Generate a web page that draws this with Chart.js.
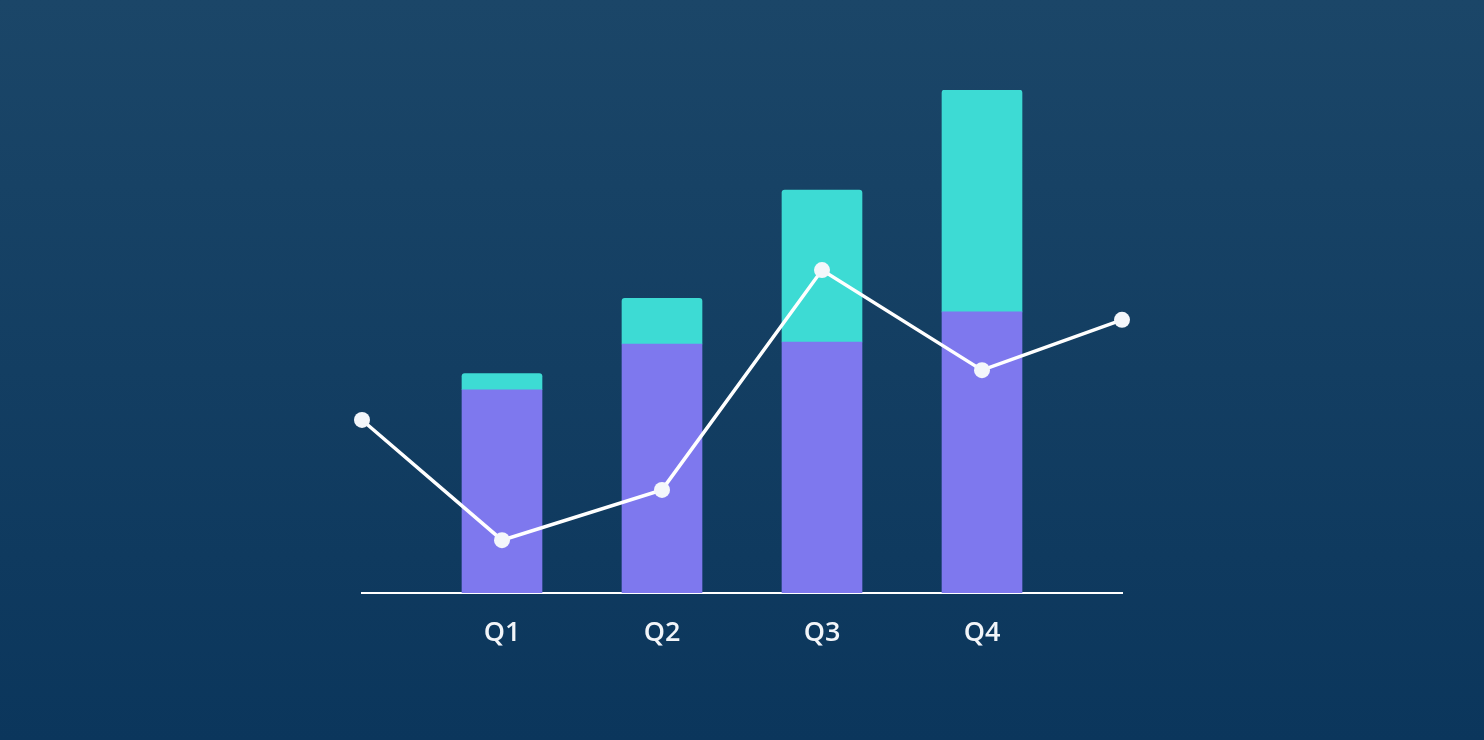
<!DOCTYPE html>
<html>
<head>
<meta charset="utf-8">
<script src="https://cdn.jsdelivr.net/npm/chart.js@4/dist/chart.umd.min.js"></script>
<style>
  html, body { margin: 0; padding: 0; }
  body {
    width: 1484px;
    height: 740px;
    background: linear-gradient(to bottom, #1b4668 0%, #0b365c 100%);
    overflow: hidden;
  }
  #wrap { width: 1484px; height: 740px; position: relative; }
</style>
</head>
<body>
<div id="wrap"><canvas id="chart"></canvas></div>
<script>
// quarters shown under the bars
const quarters = ['Q1', 'Q2', 'Q3', 'Q4'];
const barX = [0, 1, 2, 3];

// stacked bar values (lower purple part, upper teal part)
const baseValues = [40.4, 49.5, 49.9, 55.9];
const topValues = [3.2, 9.1, 30.2, 44.1];

// line runs a bit past the first and last quarter
const lineX = [-0.875, 0, 1, 2, 3, 3.875];
const lineValues = [34.4, 10.5, 20.5, 64.2, 44.3, 54.3];

const toPoints = (xs, ys) => xs.map((x, i) => ({ x: x, y: ys[i] }));

const ctx = document.getElementById('chart').getContext('2d');

new Chart(ctx, {
    type: 'bar',
    data: {
        datasets: [
            {
                type: 'line',
                data: toPoints(lineX, lineValues),
                borderColor: '#ffffff',
                borderWidth: 3.5,
                pointRadius: 8,
                pointBackgroundColor: '#f4f7fb',
                pointBorderWidth: 0,
                tension: 0,
                clip: false,
                order: 0
            },
            {
                data: toPoints(barX, baseValues),
                backgroundColor: '#7e78ee',
                barThickness: 80,
                borderRadius: 0,
                order: 1
            },
            {
                data: toPoints(barX, topValues),
                backgroundColor: '#3ddbd4',
                barThickness: 80,
                borderRadius: { topLeft: 3, topRight: 3 },
                borderSkipped: 'bottom',
                order: 1
            }
        ]
    },
    options: {
        responsive: true,
        maintainAspectRatio: false,
        animation: false,
        layout: {
            padding: { left: 362, right: 362, top: 90, bottom: 87 }
        },
        plugins: {
            legend: { display: false },
            tooltip: { enabled: false }
        },
        scales: {
            x: {
                type: 'linear',
                stacked: true,
                offset: false,
                min: -0.875,
                max: 3.875,
                grid: { display: false, drawTicks: false },
                border: { display: true, color: '#ffffff', width: 2 },
                afterBuildTicks: function (axis) {
                    axis.ticks = barX.map(v => ({ value: v }));
                },
                afterFit: function (axis) {
                    axis.height = 60;
                },
                ticks: {
                    padding: 24,
                    color: '#f2f5f9',
                    font: { family: '"Open Sans"', size: 27, weight: '600' },
                    callback: function (value) {
                        return quarters[value];
                    }
                }
            },
            y: {
                display: false,
                stacked: true,
                min: 0,
                max: 100
            }
        }
    }
});
</script>
</body>
</html>
